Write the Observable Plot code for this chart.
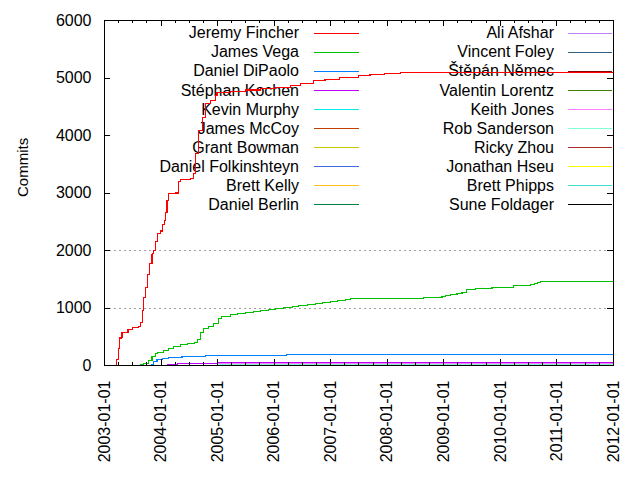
<!DOCTYPE html>
<html><head><meta charset="utf-8">
<script src="https://cdn.jsdelivr.net/npm/d3@7"></script>
<script src="https://cdn.jsdelivr.net/npm/@observablehq/plot@0.6"></script>
<style>body{margin:0;background:#fff}</style>
</head><body><div id="chart"></div>
<script>
const names = ["Jeremy Fincher","James Vega","Daniel DiPaolo","Stéphan Kochen","Kevin Murphy","James McCoy","Grant Bowman","Daniel Folkinshteyn","Brett Kelly","Daniel Berlin","Ali Afshar","Vincent Foley","Štěpán Němec","Valentin Lorentz","Keith Jones","Rob Sanderson","Ricky Zhou","Jonathan Hseu","Brett Phipps","Sune Foldager"];
const colors = ["#ff0000","#00c000","#0080ff","#c000ff","#00eeee","#c04000","#c8c800","#4169e1","#ffc020","#008040","#c080ff","#306080","#8b0000","#408000","#ff80ff","#7fffd4","#a52a2a","#ffff00","#40e0d0","#000000"];

const jeremyFincher = [["2003-03-17",0],["2003-03-22",100],["2003-04-01",300],["2003-04-10",480],["2003-04-24",579],["2003-06-02",630],["2003-07-02",655],["2003-08-06",680],["2003-08-21",753],["2003-09-01",957],["2003-09-11",1188],["2003-09-24",1362],["2003-10-07",1583],["2003-10-20",1768],["2003-11-04",1942],["2003-11-14",2000],["2003-11-25",2150],["2003-12-08",2300],["2003-12-28",2340],["2004-01-10",2450],["2004-01-25",2522],["2004-01-29",2667],["2004-02-09",2870],["2004-02-20",2986],["2004-04-03",3000],["2004-04-22",3200],["2004-05-05",3229],["2004-07-08",3247],["2004-07-30",3333],["2004-08-10",3681],["2004-09-01",4087],["2004-09-23",4318],["2004-10-14",4551],["2004-11-15",4609],["2004-12-17",4696],["2004-12-28",4754],["2005-03-24",4770],["2005-06-29",4790],["2005-10-04",4815],["2006-01-09",4840],["2006-04-14",4870],["2006-06-22",4900],["2006-09-11",4950],["2006-11-25",4980],["2007-02-26",5010],["2007-06-28",5043],["2007-09-12",5065],["2007-12-16",5080],["2008-03-25",5090],["2009-08-24",5095],["2011-01-23",5100],["2012-01-01",5100]];
const jamesVega = [["2003-08-21",10],["2003-09-09",40],["2003-10-13",87],["2003-11-04",157],["2003-11-25",214],["2003-12-12",220],["2004-01-18",261],["2004-02-20",301],["2004-03-22",330],["2004-05-05",360],["2004-06-17",377],["2004-08-04",405],["2004-08-21",447],["2004-09-11",580],["2004-10-03",638],["2004-11-04",678],["2004-12-06",725],["2005-01-08",812],["2005-01-23",857],["2005-03-24",881],["2005-05-07",899],["2005-06-29",922],["2005-08-22",939],["2005-10-04",957],["2005-11-26",974],["2006-01-09",991],["2006-03-04",1009],["2006-04-27",1026],["2006-06-09",1038],["2006-08-02",1055],["2006-09-24",1073],["2006-11-06",1090],["2006-12-30",1107],["2007-02-12",1125],["2007-04-06",1142],["2007-05-08",1160],["2008-08-23",1177],["2008-12-20",1200],["2009-01-11",1217],["2009-02-12",1235],["2009-03-27",1258],["2009-04-28",1275],["2009-05-26",1316],["2009-07-23",1333],["2009-10-07",1345],["2009-11-08",1362],["2010-03-28",1386],["2010-07-13",1409],["2010-08-08",1426],["2010-08-26",1443],["2010-09-16",1467],["2012-01-01",1467]];
const danielDiPaolo = [["2003-10-30",10],["2003-11-14",70],["2003-12-06",99],["2004-01-08",116],["2004-02-20",139],["2004-05-16",157],["2004-10-14",174],["2006-03-21",191],["2012-01-01",191]];
const stephanKochen = [["2004-02-09",12],["2004-04-17",40],["2004-12-28",50],["2012-01-01",50]];
const brettKelly = [["2003-03-15",3],["2003-11-01",3]];
const danielBerlin = [["2003-11-01",3],["2004-02-09",3]];
const keithJones = [["2004-12-28",30],["2012-01-01",30]];
const robSanderson = [["2004-12-28",14],["2012-01-01",14]];

const series = [
  ["Jeremy Fincher", jeremyFincher],
  ["James Vega", jamesVega],
  ["Daniel DiPaolo", danielDiPaolo],
  ["Stéphan Kochen", stephanKochen],
  ["Brett Kelly", brettKelly],
  ["Daniel Berlin", danielBerlin],
  ["Keith Jones", keithJones],
  ["Rob Sanderson", robSanderson]
];
series.sort((a, b) => names.indexOf(a[0]) - names.indexOf(b[0]));

const yTicks = [0, 1000, 2000, 3000, 4000, 5000, 6000];
const gridValues = [1000, 2000];
const xStart = "2003-01-01", xEnd = "2012-01-01";

const rows = [];
for (const [name, pts] of series) for (const [d, v] of pts) rows.push({name, date: new Date(d), value: v});

const X0 = new Date(xStart), X1 = new Date(xEnd);
const xTicks = d3.utcYear.range(X0, d3.utcDay.offset(X1, 1));
const xMinor = d3.utcMonth.every(3).range(X0, X1).filter(d => d.getUTCMonth() !== 0);

const font = "'Liberation Sans', Arial, sans-serif";
const fs = 16;
const plot = Plot.plot({
  width: 640, height: 480,
  marginLeft: 104, marginRight: 27, marginTop: 20, marginBottom: 115,
  style: {fontFamily: font, fontSize: fs + "px", color: "#000", background: "#fff"},
  x: {type: "utc", domain: [X0, X1]},
  y: {domain: [0, 6000]},
  color: {domain: names, range: colors},
  marks: [
    Plot.ruleY(gridValues, {stroke: "#a0a0a0", strokeDasharray: "2,3", shapeRendering: "crispEdges"}),
    Plot.line(rows, {x: "date", y: "value", z: "name", stroke: "name", curve: "step-after", strokeWidth: 1.2, shapeRendering: "crispEdges"}),
    Plot.frame({stroke: "#000", shapeRendering: "crispEdges"}),
    Plot.tickY(yTicks, {insetRight: 503, stroke: "#000", shapeRendering: "crispEdges"}),
    Plot.tickY(yTicks, {insetLeft: 503, stroke: "#000", shapeRendering: "crispEdges"}),
    Plot.tickX(xTicks, {insetTop: 339, stroke: "#000", shapeRendering: "crispEdges"}),
    Plot.tickX(xTicks, {insetBottom: 339, stroke: "#000", shapeRendering: "crispEdges"}),
    Plot.tickX(xMinor, {insetTop: 342, stroke: "#000", shapeRendering: "crispEdges"}),
    Plot.tickX(xMinor, {insetBottom: 342, stroke: "#000", shapeRendering: "crispEdges"}),
    Plot.axisY(yTicks, {tickSize: 0, tickPadding: 13, label: null, fontSize: fs, tickFormat: d3.format("d")}),
    Plot.axisX(xTicks, {tickSize: 0, tickPadding: 15, tickRotate: -90, tickFormat: d3.utcFormat("%Y-%m-%d"), label: null, fontSize: fs}),
    Plot.text(["Commits"], {frameAnchor: "left", dx: -81, dy: 4, rotate: -90, fontSize: 15})
  ]
});

// legend (two columns, gnuplot style)
const svg = d3.select(plot);
const leg = svg.insert("g", "g[aria-label='line']").attr("font-family", font).attr("font-size", fs);
const cols = [{textX: 299, x1: 314, x2: 359}, {textX: 554, x1: 568, x2: 612}];
names.forEach((n, i) => {
  const c = cols[Math.floor(i / 10)], r = i % 10;
  const y = 32.7 + 19.07 * r;
  leg.append("text").attr("x", c.textX).attr("y", y).attr("dy", "0.35em").attr("text-anchor", "end").attr("fill", "#000").text(n);
  leg.append("line").attr("x1", c.x1).attr("x2", c.x2).attr("y1", Math.round(y) + 0.5).attr("y2", Math.round(y) + 0.5).attr("stroke", colors[i]).attr("stroke-width", 1);
});
document.getElementById("chart").appendChild(plot);
</script>
</body></html>
